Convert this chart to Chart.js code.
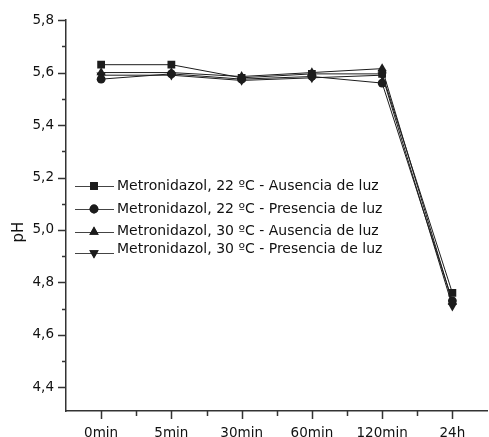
<!DOCTYPE html>
<html>
<head>
<meta charset="utf-8">
<script src="https://cdn.jsdelivr.net/npm/chart.js@4/dist/chart.umd.min.js"></script>
<style>
  html, body { margin: 0; padding: 0; background: #fff; overflow: hidden; }
  #wrap { width: 489px; height: 437px; overflow: hidden; }
</style>
</head>
<body>
<div id="wrap"><canvas id="ph" width="493" height="437"></canvas></div>
<script>
// tiempos de muestreo
const TIMES = ['0min', '5min', '30min', '60min', '120min', '24h'];

// pH
const PH_22_DARK  = [5.63, 5.63, 5.58, 5.595, 5.595, 4.76];
const PH_22_LIGHT = [5.575, 5.595, 5.575, 5.585, 5.56, 4.73];
const PH_30_DARK  = [5.60, 5.60, 5.585, 5.60, 5.615, 4.725];
const PH_30_LIGHT = [5.59, 5.59, 5.57, 5.58, 5.59, 4.71];

const SERIES_NAMES = [
  'Metronidazol, 22 ºC - Ausencia de luz',
  'Metronidazol, 22 ºC - Presencia de luz',
  'Metronidazol, 30 ºC - Ausencia de luz',
  'Metronidazol, 30 ºC - Presencia de luz',
];

const Y_MAJOR = [4.4, 4.6, 4.8, 5.0, 5.2, 5.4, 5.6, 5.8];
const Y_MINOR = [4.5, 4.7, 4.9, 5.1, 5.3, 5.5, 5.7];

const FONT  = "'DejaVu Sans', Verdana, sans-serif";
const INK   = '#1c1c1c';
const AXIS  = '#333';

const STYLES = [
  { pointStyle: 'rect',     radius: 5.5, rotation: 0 },
  { pointStyle: 'circle',   radius: 4.4, rotation: 0 },
  { pointStyle: 'triangle', radius: 5.4, rotation: 0 },
  { pointStyle: 'triangle', radius: 5.4, rotation: 180 },
];

const datasets = [PH_22_DARK, PH_22_LIGHT, PH_30_DARK, PH_30_LIGHT].map((data, i) => ({
  label: SERIES_NAMES[i],
  data,
  borderColor: INK,
  backgroundColor: INK,
  borderWidth: 1,
  pointStyle: STYLES[i].pointStyle,
  pointRadius: STYLES[i].radius,
  pointRotation: STYLES[i].rotation,
  pointBorderWidth: 0,
  pointBackgroundColor: INK,
  tension: 0,
}));

// marcas de ejes: mayores y menores
const axisTicks = {
  id: 'axisTicks',
  afterDraw(chart) {
    const { ctx, chartArea: a, scales: { x, y } } = chart;
    ctx.save();
    ctx.strokeStyle = AXIS;
    ctx.lineWidth = 1.5;
    ctx.beginPath();
    Y_MAJOR.forEach((v) => {
      const py = Math.round(y.getPixelForValue(v)) + 0.5;
      ctx.moveTo(a.left, py); ctx.lineTo(a.left - 8, py);
    });
    Y_MINOR.forEach((v) => {
      const py = Math.round(y.getPixelForValue(v)) + 0.5;
      ctx.moveTo(a.left, py); ctx.lineTo(a.left - 4, py);
    });
    TIMES.forEach((_, i) => {
      const px = Math.round(x.getPixelForValue(i)) + 0.5;
      ctx.moveTo(px, a.bottom); ctx.lineTo(px, a.bottom + 8);
    });
    for (let i = 1; i < TIMES.length; i++) {
      const px = Math.round(x.getPixelForValue(i - 0.5)) + 0.5;
      ctx.moveTo(px, a.bottom); ctx.lineTo(px, a.bottom + 5);
    }
    ctx.stroke();

    // título del eje Y
    ctx.fillStyle = '#111';
    ctx.font = `15px ${FONT}`;
    ctx.translate(19, 232);
    ctx.rotate(-Math.PI / 2);
    ctx.textAlign = 'center';
    ctx.textBaseline = 'middle';
    ctx.fillText('pH', 0, 0);
    ctx.restore();
  },
};

// leyenda dentro del área de datos
const innerLegend = {
  id: 'innerLegend',
  afterDraw(chart) {
    const { ctx } = chart;
    const rows = [186, 209, 232, 253];
    const textRows = [186, 209, 231, 249];
    ctx.save();
    chart.data.datasets.forEach((ds, i) => {
      const yy = rows[i];
      ctx.strokeStyle = '#444';
      ctx.lineWidth = 1;
      ctx.beginPath();
      ctx.moveTo(75, yy + 0.5); ctx.lineTo(114, yy + 0.5);
      ctx.stroke();
      ctx.fillStyle = INK;
      Chart.helpers.drawPoint(ctx, {
        pointStyle: STYLES[i].pointStyle,
        radius: STYLES[i].radius,
        rotation: STYLES[i].rotation,
        borderWidth: 0,
      }, 94, yy);
      ctx.fill();
      ctx.fillStyle = '#111';
      ctx.font = `14px ${FONT}`;
      ctx.textBaseline = 'middle';
      ctx.textAlign = 'left';
      ctx.fillText(ds.label, 117, textRows[i]);
    });
    ctx.restore();
  },
};

new Chart(document.getElementById('ph'), {
  type: 'line',
  data: { labels: TIMES, datasets },
  plugins: [axisTicks, innerLegend],
  options: {
    responsive: false,
    animation: false,
    layout: { padding: { top: 19, right: 0, bottom: 0, left: 0 } },
    plugins: { legend: { display: false }, tooltip: { enabled: false } },
    scales: {
      x: {
        type: 'category',
        offset: true,
        grid: { display: false, drawTicks: false },
        border: { display: true, color: AXIS, width: 1.5 },
        ticks: { color: '#111', font: { family: FONT, size: 13.5 }, padding: 14, maxRotation: 0 },
        afterFit: (s) => { s.height = 26; },
      },
      y: {
        min: 4.31,
        max: 5.8,
        grid: { display: false, drawTicks: false },
        border: { display: true, color: AXIS, width: 1.5 },
        afterBuildTicks: (s) => { s.ticks = Y_MAJOR.map((v) => ({ value: v })); },
        ticks: {
          color: '#111',
          font: { family: FONT, size: 13.5 },
          padding: 12,
          callback: (v) => Number(v).toFixed(1).replace('.', ','),
        },
        afterFit: (s) => { s.width = 66; },
      },
    },
  },
});
</script>
</body>
</html>
